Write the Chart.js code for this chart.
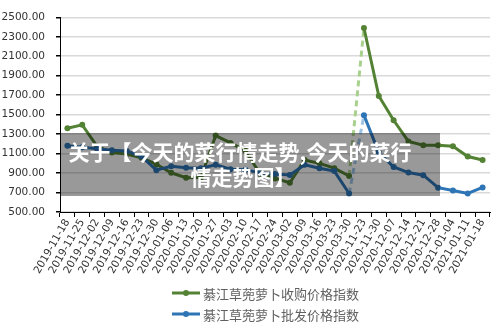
<!DOCTYPE html>
<html><head><meta charset="utf-8">
<script src="https://cdn.jsdelivr.net/npm/chart.js@4/dist/chart.umd.min.js"></script>
<style>html,body{margin:0;padding:0;background:#fff;overflow:hidden}</style>
</head><body>
<canvas id="c" width="500" height="332"></canvas>
<script>
const categories = ['2019-11-18','2019-11-25','2019-12-02','2019-12-09','2019-12-16','2019-12-23','2019-12-30','2020-01-06','2020-01-13','2020-01-20','2020-01-27','2020-02-03','2020-02-10','2020-02-17','2020-02-24','2020-03-02','2020-03-09','2020-03-16','2020-03-23','2020-03-30','2020-11-23','2020-11-30','2020-12-07','2020-12-14','2020-12-21','2020-12-28','2021-01-04','2021-01-11','2021-01-18'];
const purchaseIndex = [1360,1395,1175,1110,1095,1058,990,903,852,855,1285,1210,1130,890,845,800,1035,1000,950,870,2390,1692,1442,1225,1186,1186,1175,1070,1034];
const wholesaleIndex = [1180,1165,1150,1135,1127,1070,930,970,955,950,985,940,935,900,890,880,985,950,920,690,1495,1110,962,905,878,750,720,690,752];
const yMin = 500, yMax = 2500, yStep = 200;
const seriesNames = ['綦江草蔸萝卜收购价格指数','綦江草蔸萝卜批发价格指数'];
const titleLines = ['关于【今天的菜行情走势,今天的菜行','情走势图】'];
const gapAfterIndex = 19;

const GREEN = '#548235', GREEN_L = '#a9d18e', BLUE = '#2e75b6', BLUE_L = '#9dc3e6';

const overlayPlugin = {
  id: 'overlay',
  afterDraw(chart) {
    const ctx = chart.ctx;
    ctx.save();
    const ds = chart.data.datasets;
    ctx.font = '13px "Noto Sans CJK SC"';
    ctx.textBaseline = 'middle';
    ctx.textAlign = 'left';
    ds.forEach((d, i) => {
      const y = 293 + i * 21;
      ctx.strokeStyle = d.borderColor; ctx.lineWidth = 3;
      ctx.beginPath(); ctx.moveTo(172, y); ctx.lineTo(200, y); ctx.stroke();
      ctx.fillStyle = d.borderColor;
      ctx.beginPath(); ctx.arc(186, y, 3, 0, Math.PI * 2); ctx.fill();
      ctx.fillStyle = '#606060';
      ctx.fillText(d.label, 203, y + 1);
    });
    ctx.fillStyle = 'rgba(0,0,0,0.4)';
    ctx.fillRect(60, 133, 380, 63);
    ctx.fillStyle = '#ffffff';
    ctx.font = 'bold 21px "Noto Sans CJK SC"';
    ctx.textAlign = 'center';
    ctx.fillText(titleLines[0], 240, 152);
    ctx.fillText(titleLines[1], 243, 177);
    ctx.restore();
  }
};

const segStyle = (light) => ({
  borderColor: c => c.p0DataIndex === gapAfterIndex ? light : undefined,
  borderDash: c => c.p0DataIndex === gapAfterIndex ? [6, 4] : undefined
});

new Chart(document.getElementById('c'), {
  type: 'line',
  data: {
    labels: categories,
    datasets: [
      { label: seriesNames[0], data: purchaseIndex, borderColor: GREEN, backgroundColor: GREEN,
        pointBackgroundColor: GREEN, pointBorderColor: GREEN, borderWidth: 3, pointRadius: 3, pointBorderWidth: 0,
        tension: 0, order: 2, segment: segStyle(GREEN_L) },
      { label: seriesNames[1], data: wholesaleIndex, borderColor: BLUE, backgroundColor: BLUE,
        pointBackgroundColor: BLUE, pointBorderColor: BLUE, borderWidth: 3, pointRadius: 3, pointBorderWidth: 0,
        tension: 0, order: 1, segment: segStyle(BLUE_L) }
    ]
  },
  options: {
    responsive: false,
    animation: false,
    layout: { padding: { top: 16, right: 10, bottom: 52, left: 0 } },
    plugins: { legend: { display: false }, tooltip: { enabled: false } },
    scales: {
      x: {
        type: 'category', offset: true,
        grid: { drawOnChartArea: false, drawTicks: true, tickLength: 5, tickColor: '#000', offset: true },
        border: { display: true, color: '#000', width: 1 },
        ticks: { autoSkip: false, minRotation: 60, maxRotation: 60, padding: 0, color: '#333',
          font: { family: 'DejaVu Sans', size: 10.5 } },
        afterFit: s => { s.height = 68; }
      },
      y: {
        min: yMin, max: yMax,
        grid: { color: '#d9d9d9', lineWidth: 1.5, tickColor: '#000', tickLength: 4 },
        border: { display: true, color: '#000', width: 1 },
        ticks: { stepSize: yStep, padding: 11, color: '#333', font: { family: 'DejaVu Sans', size: 10.5 },
          callback: v => Number(v).toFixed(2) },
        afterFit: s => { s.width = 60; }
      }
    }
  },
  plugins: [overlayPlugin]
});
</script>
</body></html>
